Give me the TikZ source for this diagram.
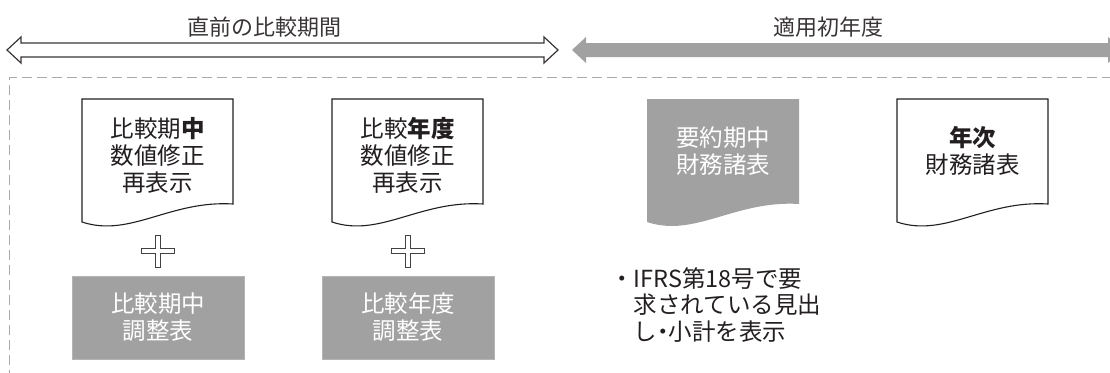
\documentclass[tikz,border=0pt]{standalone}
\usepackage{fontspec}
\setmainfont{Noto Sans CJK JP}
\definecolor{ink}{HTML}{231F20}
\definecolor{gfill}{HTML}{A0A1A0}
\definecolor{dashc}{HTML}{AAAAAA}
\begin{document}
\begin{tikzpicture}[x=1pt,y=-1pt,
  txt/.style={font=\fontsize{23.5}{27}\selectfont, align=center, inner sep=0pt, text=ink},
  head/.style={font=\fontsize{22}{26}\selectfont, inner sep=0pt, text=ink!90},
  docbox/.style={draw=ink, line width=1.1pt, fill=white},
  gdoc/.style={fill=gfill},
  gbox/.style={fill=gfill, draw=gfill!80!white, line width=0.6pt, minimum width=172pt, minimum height=83pt, inner sep=0pt, txt, text=white},
  plusmark/.style={draw=ink!85, fill=white, line width=0.9pt},
  dashbox/.style={draw=dashc, line width=1pt, dash pattern=on 10pt off 5pt}]
\useasboundingbox (0,0) rectangle (1110,372);
\begin{scope}
  \clip (0,0) rectangle (1110,372);
  \draw[dashbox] (9,380) -- (9,77.5) -- (1120,77.5);
  \fill[gfill] (572,50) -- (586,37) -- (586,43) -- (1108,43) -- (1108,37) -- (1122,50) -- (1108,63) -- (1108,57) -- (586,57) -- (586,63) -- cycle;
\end{scope}
% open double arrow
\draw[draw=ink!90, fill=white, line width=1.2pt, line join=miter]
  (7,50) -- (21,37) -- (21,43) -- (544,43) -- (544,37) -- (558,50) -- (544,63) -- (544,57) -- (21,57) -- (21,63) -- cycle;
\node[head] (h1) at (264,27) {直前の比較期間};
\node[head] (h2) at (828,27) {適用初年度};
% documents
\draw[docbox, shift={(82,0)}] (0,99) -- (151,99) -- (151,204) .. controls (88,200) and (48,238) .. (0,222) -- cycle;
\draw[docbox, shift={(332,0)}] (0,99) -- (151,99) -- (151,204) .. controls (88,200) and (48,238) .. (0,222) -- cycle;
\fill[gdoc, shift={(647,0)}] (0,99) -- (152,99) -- (152,204) .. controls (88,200) and (48,238) .. (0,222) -- cycle;
\draw[docbox, shift={(897,0)}] (0,99) -- (151,99) -- (151,204) .. controls (88,200) and (48,238) .. (0,222) -- cycle;
\node[txt] (d1) at (157.5,155) {比較期\textbf{中}\\数値修正\\再表示};
\node[txt] (d2) at (407.5,155) {比較\textbf{年度}\\数値修正\\再表示};
\node[txt, text=white] (d3) at (723,151) {要約期中\\財務諸表};
\node[txt] (d4) at (972.5,151) {\textbf{年次}\\財務諸表};
% plus marks
\foreach \cx/\nm in {157.5/p1, 407.5/p2}{
  \draw[plusmark, shift={(\cx,251)}] (-2.5,-16) -- (2.5,-16) -- (2.5,-2.5) -- (16.5,-2.5) -- (16.5,2.5) -- (2.5,2.5) -- (2.5,16) -- (-2.5,16) -- (-2.5,2.5) -- (-16.5,2.5) -- (-16.5,-2.5) -- (-2.5,-2.5) -- cycle;
  \coordinate (\nm) at (\cx,251);
}
% grey boxes
\node[gbox] (b1) at (158,317.5) {比較期中\\調整表};
\node[gbox] (b2) at (408,317.5) {比較年度\\調整表};
% note
\node[txt, anchor=west, align=left, font=\fontsize{23.5}{26.5}\selectfont] (note) at (610,305)
  {・IFRS第18号で要\\\hspace*{1em}求されている見出\\\hspace*{1em}し\kern-0.25em・\kern-0.25em小計を表示};
\end{tikzpicture}
\end{document}
